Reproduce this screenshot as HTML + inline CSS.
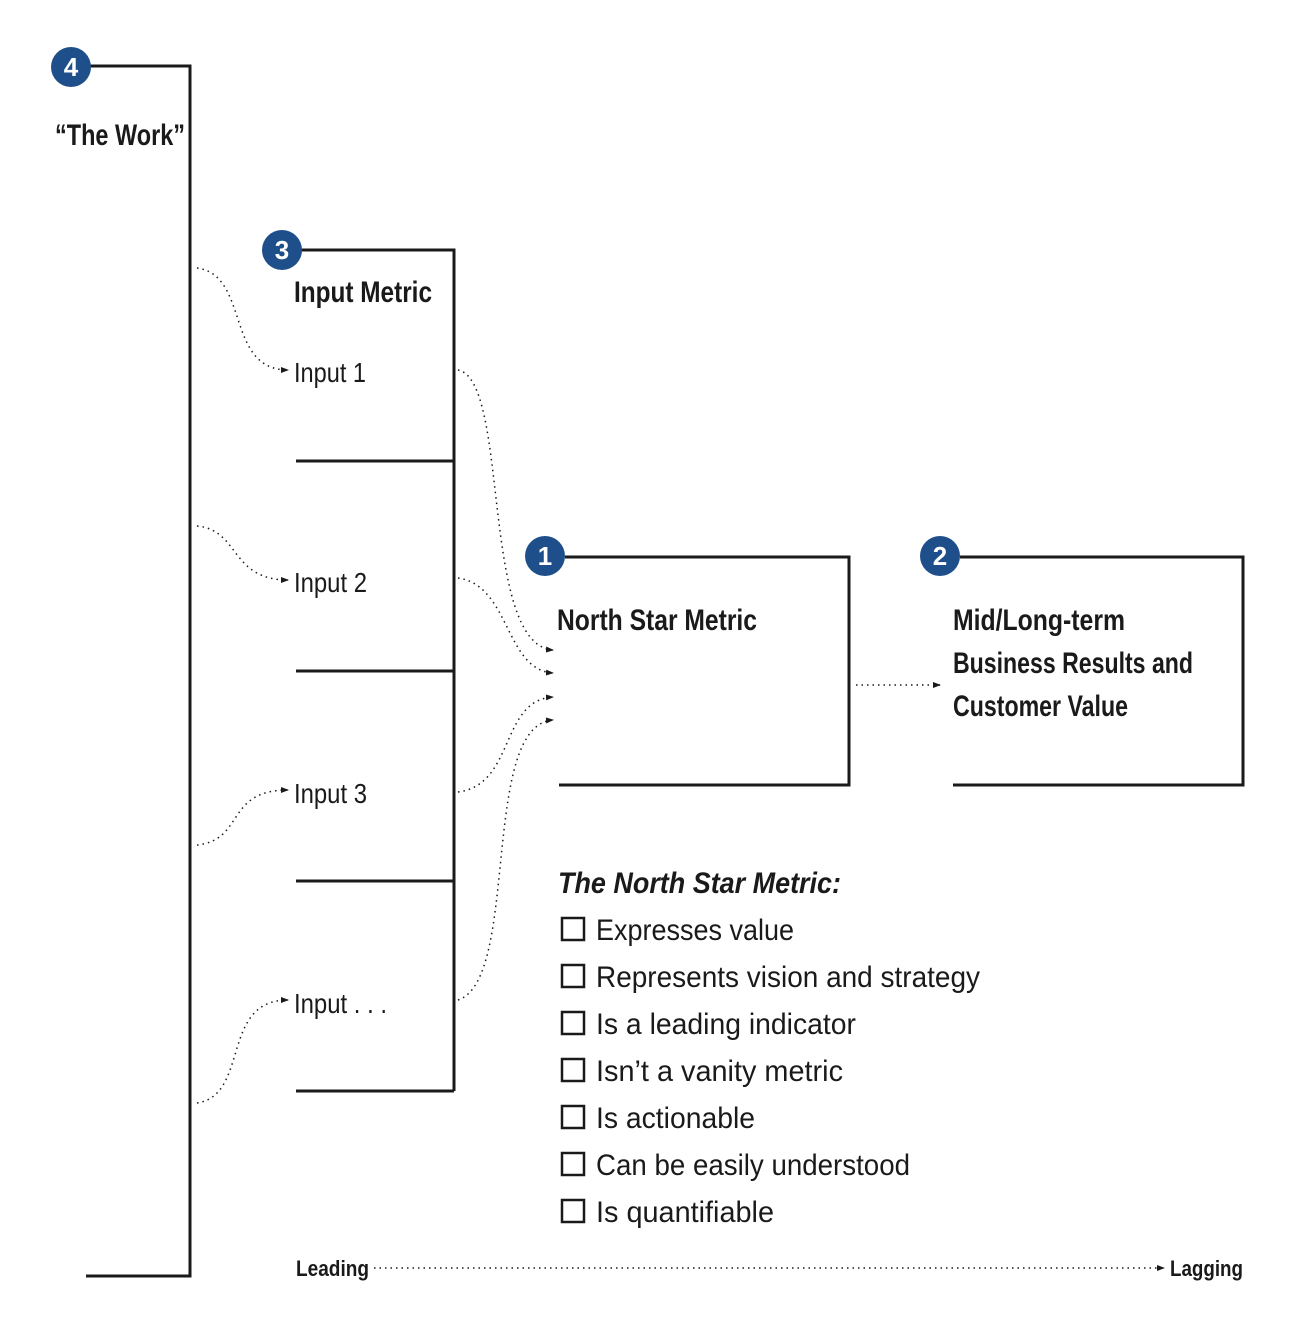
<!DOCTYPE html>
<html><head><meta charset="utf-8"><style>
html,body{margin:0;padding:0;background:#fff;}
svg{display:block;}
text{font-family:"Liberation Sans Narrow","Liberation Sans",sans-serif;fill:#1a1a1a;}
</style></head><body>
<svg width="1298" height="1328" viewBox="0 0 1298 1328" xmlns="http://www.w3.org/2000/svg">
<defs>
<marker id="ar" markerWidth="8" markerHeight="8" refX="7" refY="4" orient="auto" markerUnits="userSpaceOnUse">
<path d="M0,1 L8,4 L0,7 Z" fill="#1a1a1a"/></marker>
</defs>
<g fill="none" stroke="#1a1a1a" stroke-width="3">
<polyline points="90,66 190,66 190,1276 86,1276"/>
<polyline points="300,250 454,250 454,1091"/>
<line x1="296" y1="461" x2="454" y2="461"/>
<line x1="296" y1="671" x2="454" y2="671"/>
<line x1="296" y1="881" x2="454" y2="881"/>
<line x1="296" y1="1091" x2="454" y2="1091"/>
<polyline points="565,557 849,557 849,785 559,785"/>
<polyline points="960,557 1243,557 1243,785 953,785"/>
</g>
<g fill="none" stroke="#1a1a1a" stroke-width="1.5" stroke-dasharray="1.5,4">
<path d="M197,268 C250,275 225,370 288,370" marker-end="url(#ar)"/>
<path d="M197,526 C240,530 230,580 288,580" marker-end="url(#ar)"/>
<path d="M197,845 C245,840 225,790 288,790" marker-end="url(#ar)"/>
<path d="M197,1103 C250,1095 220,1000 288,1000" marker-end="url(#ar)"/>
<path d="M458,370 C510,380 480,645 553,650" marker-end="url(#ar)"/>
<path d="M458,578 C510,585 505,670 553,673" marker-end="url(#ar)"/>
<path d="M458,792 C515,785 500,700 553,697" marker-end="url(#ar)"/>
<path d="M458,1000 C520,980 480,725 553,720" marker-end="url(#ar)"/>
<path d="M856,685 L940,685" marker-end="url(#ar)"/>
<path d="M374,1268 L1164,1268" marker-end="url(#ar)"/>
</g>
<g fill="#1f4f8a">
<circle cx="71" cy="67" r="20"/><circle cx="282" cy="250" r="20"/>
<circle cx="545" cy="556" r="20"/><circle cx="940" cy="556" r="20"/>
</g>
<g font-weight="bold" font-size="26" text-anchor="middle">
<text x="71" y="76" style="fill:#fff">4</text><text x="282" y="259" style="fill:#fff">3</text>
<text x="545" y="565" style="fill:#fff">1</text><text x="940" y="565" style="fill:#fff">2</text>
</g>
<g font-weight="bold" font-size="30">
<text x="55" y="145" textLength="130" lengthAdjust="spacingAndGlyphs">“The Work”</text>
<text x="294" y="302" textLength="138" lengthAdjust="spacingAndGlyphs">Input Metric</text>
<text x="557" y="630" textLength="200" lengthAdjust="spacingAndGlyphs">North Star Metric</text>
<text x="953" y="630" textLength="172" lengthAdjust="spacingAndGlyphs">Mid/Long-term</text>
<text x="953" y="673" textLength="240" lengthAdjust="spacingAndGlyphs">Business Results and</text>
<text x="953" y="716" textLength="175" lengthAdjust="spacingAndGlyphs">Customer Value</text>
<text x="558" y="893" font-style="italic" textLength="283" lengthAdjust="spacingAndGlyphs">The North Star Metric:</text>
</g>
<g font-size="28">
<text x="294" y="382" textLength="72" lengthAdjust="spacingAndGlyphs">Input 1</text>
<text x="294" y="592" textLength="73" lengthAdjust="spacingAndGlyphs">Input 2</text>
<text x="294" y="803" textLength="73" lengthAdjust="spacingAndGlyphs">Input 3</text>
<text x="294" y="1013" textLength="93" lengthAdjust="spacingAndGlyphs">Input . . .</text>
</g>
<g font-size="30">
<text x="596" y="940" textLength="198" lengthAdjust="spacingAndGlyphs">Expresses value</text>
<text x="596" y="987" textLength="384" lengthAdjust="spacingAndGlyphs">Represents vision and strategy</text>
<text x="596" y="1034" textLength="260" lengthAdjust="spacingAndGlyphs">Is a leading indicator</text>
<text x="596" y="1081" textLength="247" lengthAdjust="spacingAndGlyphs">Isn’t a vanity metric</text>
<text x="596" y="1128" textLength="159" lengthAdjust="spacingAndGlyphs">Is actionable</text>
<text x="596" y="1175" textLength="314" lengthAdjust="spacingAndGlyphs">Can be easily understood</text>
<text x="596" y="1222" textLength="178" lengthAdjust="spacingAndGlyphs">Is quantifiable</text>
</g>
<g fill="none" stroke="#1a1a1a" stroke-width="2.5">
<rect x="562" y="918" width="22" height="22"/><rect x="562" y="965" width="22" height="22"/>
<rect x="562" y="1012" width="22" height="22"/><rect x="562" y="1059" width="22" height="22"/>
<rect x="562" y="1106" width="22" height="22"/><rect x="562" y="1153" width="22" height="22"/>
<rect x="562" y="1200" width="22" height="22"/>
</g>
<g font-weight="bold" font-size="22">
<text x="296" y="1276" textLength="73" lengthAdjust="spacingAndGlyphs">Leading</text>
<text x="1170" y="1276" textLength="73" lengthAdjust="spacingAndGlyphs">Lagging</text>
</g>
</svg>
</body></html>
